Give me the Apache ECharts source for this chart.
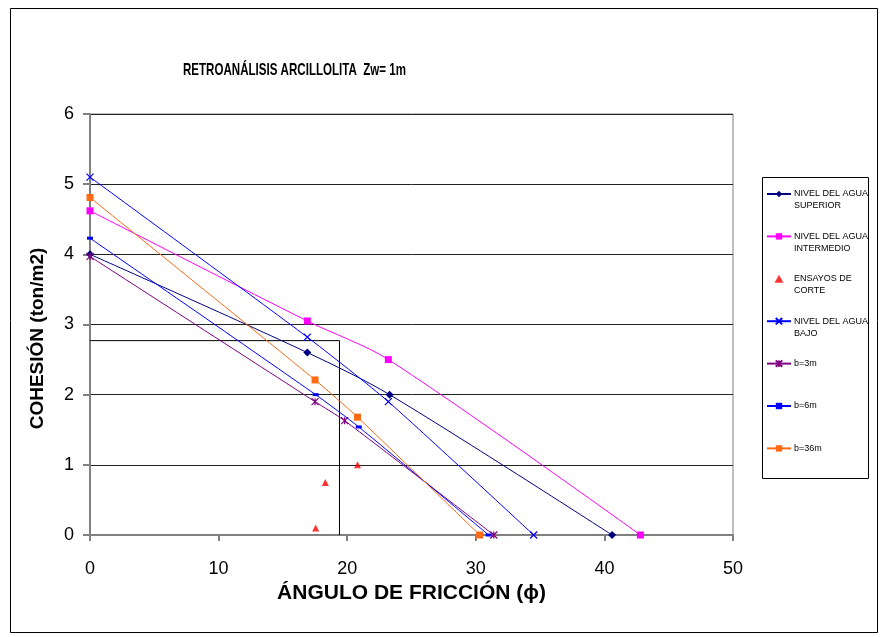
<!DOCTYPE html>
<html>
<head>
<meta charset="utf-8">
<script src="https://cdn.jsdelivr.net/npm/echarts@6/dist/echarts.min.js"></script>
<style>
  html, body { margin: 0; padding: 0; background: #fff; }
  #chart { width: 880px; height: 637px; }
</style>
</head>
<body>
<div id="chart"></div>
<script>
// Back-analysis of claystone: cohesion vs. friction angle for each water level / width b
const FONT = "'Liberation Sans', Arial, sans-serif";

const xTicks = [0, 10, 20, 30, 40, 50];
const yTicks = [0, 1, 2, 3, 4, 5, 6];

const supX = [0, 16.9, 23.3, 40.6];
const supY = [4.0, 2.6, 2.0, 0];

const intX = [0, 16.9, 23.2, 42.8];
const intY = [4.62, 3.05, 2.5, 0];

const ensX = [17.55, 18.3, 20.8];
const ensY = [0.1, 0.75, 1.0];

const bajX = [0, 16.9, 23.2, 34.5];
const bajY = [5.1, 2.82, 1.9, 0];

const b3X = [0, 17.5, 19.8, 31.4];
const b3Y = [3.97, 1.9, 1.63, 0];

const b6X = [0, 17.55, 20.9, 31.0];
const b6Y = [4.23, 2.0, 1.54, 0];

const b36X = [0, 17.5, 20.8, 30.3];
const b36Y = [4.81, 2.21, 1.68, 0];

// design point guide (phi ≈ 19.4°, c ≈ 2.77 ton/m2)
const refX = [0, 19.4, 19.4];
const refY = [2.77, 2.77, 0];

const titleText = 'RETROANÁLISIS ARCILLOLITA  Zw= 1m';

const names = [
  'NIVEL DEL AGUA SUPERIOR',
  'NIVEL DEL AGUA INTERMEDIO',
  'ENSAYOS DE CORTE',
  'NIVEL DEL AGUA BAJO',
  'b=3m',
  'b=6m',
  'b=36m'
];
const legendText = {
  'NIVEL DEL AGUA SUPERIOR': ' \nNIVEL DEL AGUA\nSUPERIOR',
  'NIVEL DEL AGUA INTERMEDIO': ' \nNIVEL DEL AGUA\nINTERMEDIO',
  'ENSAYOS DE CORTE': ' \nENSAYOS DE\nCORTE',
  'NIVEL DEL AGUA BAJO': ' \nNIVEL DEL AGUA\nBAJO',
  'b=3m': ' \nb=3m\n ',
  'b=6m': ' \nb=6m\n ',
  'b=36m': ' \nb=36m\n '
};

const pairs = (xs, ys) => xs.map((x, i) => [x, ys[i]]);

const X_MARK = 'path://M0 0L10 10M10 0L0 10';
const STAR_MARK = 'path://M0 0L10 10M10 0L0 10M5 0L5 10';
const TRI_MARK = 'path://M5 0L10 9L0 9Z';

function lineSeries(name, xs, ys, color, symbol, size, smooth, extra) {
  return Object.assign({
    name: name,
    type: 'line',
    data: pairs(xs, ys),
    smooth: smooth,
    symbol: symbol,
    symbolSize: size,
    showSymbol: true,
    lineStyle: { color: color, width: 1 },
    itemStyle: { color: color, borderColor: color, borderWidth: 0 },
    emphasis: { disabled: true },
    animation: false,
    z: 3
  }, extra || {});
}

const chart = echarts.init(document.getElementById('chart'), null, { renderer: 'canvas' });

chart.setOption({
  backgroundColor: '#ffffff',
  animation: false,
  grid: {
    left: 90, top: 114, width: 643, height: 421,
    show: true, borderColor: '#808080', borderWidth: 1, backgroundColor: 'transparent'
  },
  legend: {
    orient: 'vertical',
    left: 766,
    top: 176,
    itemWidth: 24,
    itemHeight: 8,
    itemGap: 6.4,
    padding: 0,
    data: names.map(n => n === 'ENSAYOS DE CORTE' ? { name: n, icon: TRI_MARK } : n),
    formatter: n => legendText[n],
    textStyle: { fontFamily: FONT, fontSize: 9, lineHeight: 12, color: '#000', padding: [0, 0, 0, -2] },
    selectedMode: false
  },
  xAxis: {
    type: 'value', min: 0, max: 50, interval: 10,
    name: 'ÁNGULO DE FRICCIÓN (ϕ)',
    nameLocation: 'middle',
    nameGap: 33,
    nameTextStyle: { fontFamily: FONT, fontSize: 21, fontWeight: 'bold', color: '#000' },
    axisLine: { lineStyle: { color: '#808080', width: 2 } },
    axisTick: { show: true, length: 6, lineStyle: { color: '#808080', width: 2 } },
    axisLabel: { margin: 25, fontFamily: FONT, fontSize: 18, color: '#000',
                 formatter: v => xTicks.includes(v) ? String(v) : '' },
    splitLine: { show: false }
  },
  yAxis: {
    type: 'value', min: 0, max: 6, interval: 1,
    name: 'COHESIÓN (ton/m2)',
    nameLocation: 'middle',
    nameGap: 43,
    nameTextStyle: { fontFamily: FONT, fontSize: 19, fontWeight: 'bold', color: '#000', padding: [0, 28, 0, 0] },
    axisLine: { lineStyle: { color: '#808080', width: 2 } },
    axisTick: { show: true, length: 7, lineStyle: { color: '#808080', width: 2 } },
    axisLabel: { margin: 16, fontFamily: FONT, fontSize: 18, color: '#000',
                 formatter: v => yTicks.includes(v) ? String(v) : '' },
    splitLine: { show: true, lineStyle: { color: '#222', width: 1 } }
  },
  graphic: [
    { type: 'rect', shape: { x: 10.5, y: 8.5, width: 867, height: 624 },
      style: { fill: 'none', stroke: '#000', lineWidth: 1 }, silent: true, z: -10 },
    { type: 'rect', shape: { x: 762.5, y: 177.5, width: 106, height: 301 },
      style: { fill: 'none', stroke: '#000', lineWidth: 1 }, silent: true, z: 10 },
    // condensed bold title
    { type: 'text', x: 183, y: 70, scaleX: 0.68, silent: true, z: 10,
      style: { text: titleText, font: "bold 17px 'Liberation Sans', Arial, sans-serif",
               fill: '#000', verticalAlign: 'middle', align: 'left' } }
  ],
  series: [
    {
      name: 'guide',
      type: 'line',
      data: pairs(refX, refY),
      symbol: 'none',
      lineStyle: { color: '#000', width: 1 },
      silent: true,
      animation: false,
      z: 2
    },
    lineSeries(names[0], supX, supY, '#000080', 'diamond', 8, 0.3),
    lineSeries(names[1], intX, intY, '#ff00ff', 'rect', 7, 0.3),
    {
      name: names[2],
      type: 'scatter',
      data: pairs(ensX, ensY),
      symbol: TRI_MARK,
      symbolSize: 7,
      itemStyle: { color: '#ff0000' },
      emphasis: { disabled: true },
      animation: false,
      z: 3
    },
    lineSeries(names[3], bajX, bajY, '#0000ff', X_MARK, 7, 0.2,
      { itemStyle: { color: '#0000ff', borderColor: '#0000ff', borderWidth: 1.2 } }),
    lineSeries(names[4], b3X, b3Y, '#800080', STAR_MARK, 7, 0.2,
      { itemStyle: { color: '#800080', borderColor: '#800080', borderWidth: 1.2 } }),
    lineSeries(names[5], b6X, b6Y, '#0000ff', 'rect', [6, 3], 0.2),
    lineSeries(names[6], b36X, b36Y, '#ff6a13', 'rect', 7, 0.2)
  ]
});
</script>
</body>
</html>
